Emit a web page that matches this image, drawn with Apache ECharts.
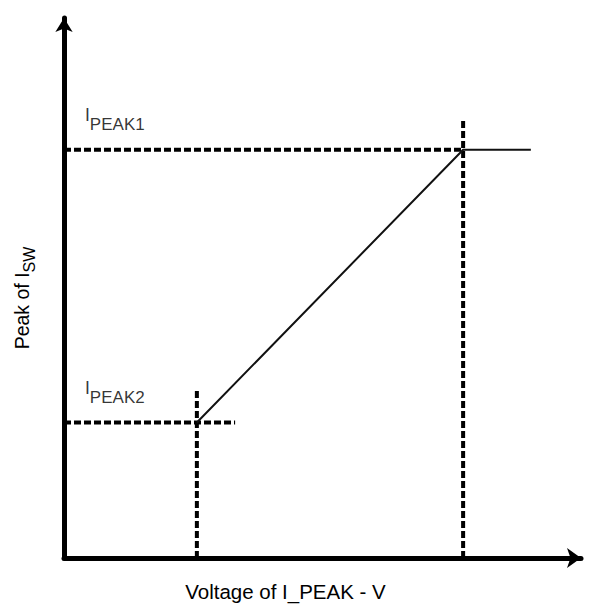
<!DOCTYPE html>
<html>
<head>
<meta charset="utf-8">
<script src="https://cdn.jsdelivr.net/npm/echarts@6/dist/echarts.min.js"></script>
<style>
html,body{margin:0;padding:0;background:#fff;}
#chart{width:589px;height:604px;}
</style>
</head>
<body>
<div id="chart"></div>
<script>
// Axis ranges (normalized units, no tick labels shown)
const vRange = [0, 100];
const iRange = [0, 100];

// Current-limit curve: knee at IPEAK2, ramp, flat at IPEAK1
const curveV = [25.7, 77.2, 90.3];
const curveI = [25.1, 75.6, 75.6];

// Dashed guide lines
const guideHighH_V = [0, 77.2];     // horizontal at IPEAK1
const guideHighH_I = [75.6, 75.6];
const guideHighV_V = [77.2, 77.2];  // vertical at upper knee
const guideHighV_I = [0, 81.3];
const guideLowH_V = [0, 33.1];      // horizontal at IPEAK2
const guideLowH_I = [25.1, 25.1];
const guideLowV_V = [25.7, 25.7];   // vertical at lower knee
const guideLowV_I = [0, 31.3];

// Text
const xName = 'Voltage of I_PEAK - V';
const yMain = 'Peak of I';
const ySub = 'SW';
const labelMain = 'I';
const label1Sub = 'PEAK1';
const label2Sub = 'PEAK2';

const zip = (a, b) => a.map((v, k) => [v, b[k]]);
const FONT = '"Liberation Sans", Arial, sans-serif';

const dashStyle = { color: '#000', width: 4, type: [7, 3] };
function guide(vs, is) {
  return {
    type: 'line', data: zip(vs, is), symbol: 'none', silent: true,
    lineStyle: dashStyle, z: 3
  };
}

const richLbl = {
  m: { fontSize: 17.5, lineHeight: 17, fontFamily: FONT, color: '#000', verticalAlign: 'top' },
  s: { fontSize: 17, lineHeight: 17, fontFamily: FONT, color: '#000', padding: [10, 0, 0, 0], verticalAlign: 'top' }
};

const chart = echarts.init(document.getElementById('chart'), null, { renderer: 'svg' });
chart.setOption({
  animation: false,
  backgroundColor: '#fff',
  grid: { left: 64, right: 8, top: 18, bottom: 46, containLabel: false, outerBoundsMode: 'none' },
  xAxis: {
    type: 'value', min: vRange[0], max: vRange[1],
    name: xName, nameLocation: 'middle', nameGap: 23,
    nameTextStyle: { fontSize: 20.5, fontFamily: FONT, color: '#000', padding: [0, 74, 0, 0] },
    axisLine: { show: true, symbol: ['none', 'arrow'], symbolSize: [15, 14], lineStyle: { color: '#000', width: 5 } },
    axisTick: { show: false }, axisLabel: { show: false }, splitLine: { show: false }
  },
  yAxis: {
    type: 'value', min: iRange[0], max: iRange[1],
    name: '{m|' + yMain + '}{s|' + ySub + '}', nameLocation: 'middle', nameGap: 33,
    nameTextStyle: {
      padding: [0, 20, 0, 0],
      rich: {
        m: { fontSize: 19.5, lineHeight: 19, fontFamily: FONT, color: '#000', verticalAlign: 'top' },
        s: { fontSize: 16, lineHeight: 16, fontFamily: FONT, color: '#000', padding: [9, 0, 0, 0], verticalAlign: 'top' }
      }
    },
    axisLine: { show: true, symbol: ['none', 'arrow'], symbolSize: [13, 14], lineStyle: { color: '#000', width: 5 } },
    axisTick: { show: false }, axisLabel: { show: false }, splitLine: { show: false }
  },
  series: [
    guide(guideHighH_V, guideHighH_I),
    guide(guideHighV_V, guideHighV_I),
    guide(guideLowH_V, guideLowH_I),
    guide(guideLowV_V, guideLowV_I),
    {
      type: 'line', data: zip(curveV, curveI), symbol: 'none', silent: true,
      lineStyle: { color: '#111', width: 2 }, z: 4
    },
    {
      type: 'scatter', symbolSize: 0, silent: true, z: 5,
      data: [
        { value: [0, curveI[1]], label: { formatter: '{m|' + labelMain + '}{s|' + label1Sub + '}' } },
        { value: [0, curveI[0]], label: { formatter: '{m|' + labelMain + '}{s|' + label2Sub + '}' } }
      ],
      label: { show: true, position: 'right', offset: [16, -35], rich: richLbl }
    }
  ]
});
</script>
</body>
</html>
